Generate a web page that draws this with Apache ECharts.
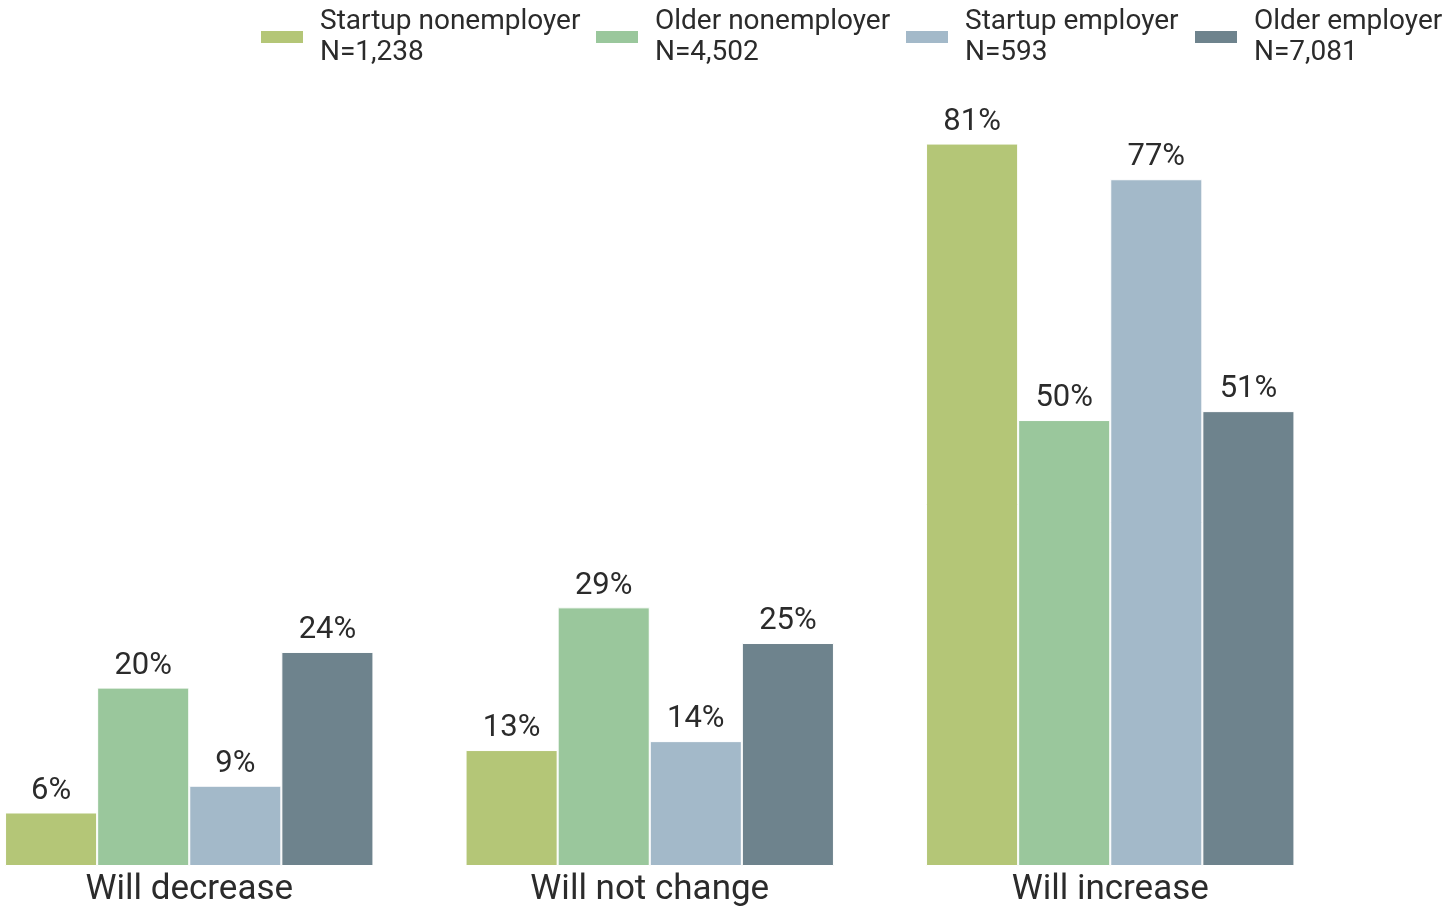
<!DOCTYPE html>
<html>
<head>
<meta charset="utf-8">
<script src="https://cdn.jsdelivr.net/npm/echarts@6/dist/echarts.min.js"></script>
<style>
  html, body { margin: 0; padding: 0; background: #ffffff; overflow: hidden; }
  /* The plot runs a little past the left edge of the page, so the canvas is shifted left */
  #chart { position: absolute; left: -41px; top: 0; width: 1484px; height: 908px; }
</style>
</head>
<body>
<div id="chart"></div>
<script>
// Expected change in demand, by firm type (percent of firms)
const categories = ['Will decrease', 'Will not change', 'Will increase'];
const seriesNames = [
  'Startup nonemployer\nN=1,238',
  'Older nonemployer\nN=4,502',
  'Startup employer\nN=593',
  'Older employer\nN=7,081'
];
const startupNonemployer = [6, 13, 81];
const olderNonemployer = [20, 29, 50];
const startupEmployer = [9, 14, 77];
const olderEmployer = [24, 25, 51];

const seriesValues = [startupNonemployer, olderNonemployer, startupEmployer, olderEmployer];
const colors = ['#b4c677', '#9ac79c', '#a3b9c9', '#6e838d'];
const shiftX = 41;
const legendLeft = [259, 594, 904, 1193].map(x => x + shiftX);
const textColor = '#2b2b2b';
const fontFamily = 'Roboto, "Noto Sans", sans-serif';

const chart = echarts.init(document.getElementById('chart'), null, { renderer: 'canvas' });

const legends = seriesNames.map((name, i) => ({
  data: [name],
  left: legendLeft[i],
  top: -3,
  padding: 0,
  itemWidth: 44,
  itemHeight: 14,
  icon: 'rect',
  selectedMode: false,
  textStyle: {
    fontFamily: fontFamily,
    fontSize: 28,
    lineHeight: 31,
    color: textColor,
    padding: [0, 0, 18, 11]
  }
}));

chart.setOption({
  backgroundColor: '#ffffff',
  animation: false,
  legend: legends,
  grid: { left: 0, right: 102.5, top: 63.3, bottom: 41 },
  xAxis: {
    type: 'category',
    data: categories,
    axisLine: { show: false },
    axisTick: { show: false },
    axisLabel: {
      margin: 7,
      fontFamily: fontFamily,
      fontSize: 35,
      color: textColor
    }
  },
  yAxis: {
    type: 'value',
    min: 0,
    max: 90,
    show: false,
    splitLine: { show: false }
  },
  series: seriesNames.map((name, i) => ({
    name: name,
    type: 'bar',
    data: seriesValues[i],
    barGap: 0,
    barCategoryGap: '20%',
    itemStyle: { color: colors[i], borderColor: '#ffffff', borderWidth: 1 },
    label: {
      show: true,
      position: 'top',
      distance: 6,
      formatter: '{c}%',
      fontFamily: fontFamily,
      fontSize: 31,
      color: textColor
    }
  }))
});
</script>
</body>
</html>
